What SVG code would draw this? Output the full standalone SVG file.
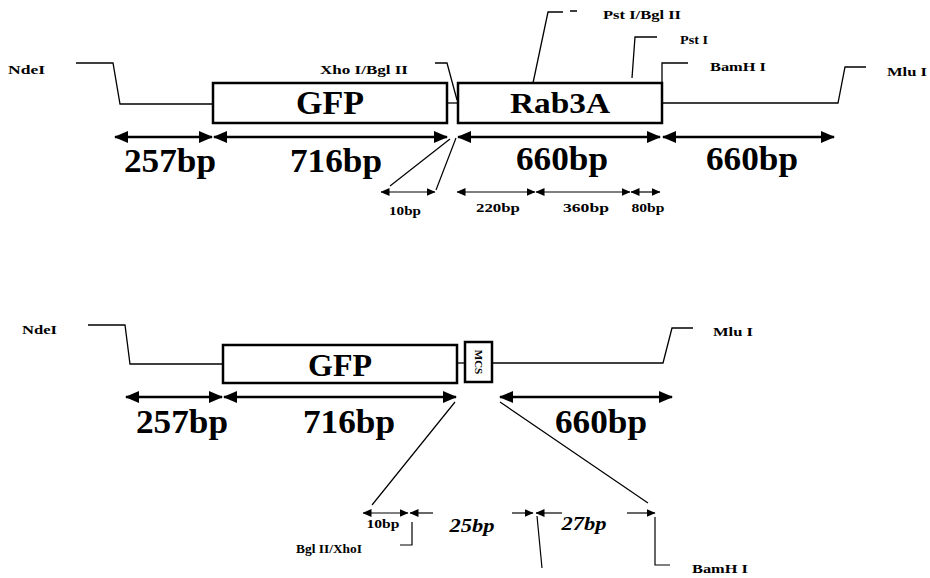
<svg xmlns="http://www.w3.org/2000/svg" width="930" height="578" viewBox="0 0 930 578">
<style>
.ln{fill:none;stroke:#000;stroke-width:1.3}
.bx{fill:#fff;stroke:#000;stroke-width:2.5}
.big{fill:none;stroke:#000;stroke-width:2.5;marker-start:url(#hb);marker-end:url(#hb)}
.sm{fill:none;stroke:#000;stroke-width:1.2}
.smb{marker-start:url(#hs);marker-end:url(#hs)}
.sme{marker-end:url(#hs)}
.lab{font-family:"Liberation Serif",serif;font-weight:bold;font-size:12px;fill:#000}
.bp{font-family:"Liberation Serif",serif;font-weight:bold;font-size:34px;fill:#000;text-anchor:middle}
.sbp{font-family:"Liberation Serif",serif;font-weight:bold;font-size:12px;fill:#000;text-anchor:middle}
.ibp{font-family:"Liberation Serif",serif;font-weight:bold;font-style:italic;font-size:19px;fill:#000;text-anchor:middle}
.gene{font-family:"Liberation Serif",serif;font-weight:bold;fill:#000;text-anchor:middle}
</style>
<defs>
<marker id="hb" markerUnits="userSpaceOnUse" markerWidth="14" markerHeight="12" viewBox="0 0 14 12" refX="13" refY="6" orient="auto-start-reverse"><path d="M0,0 L14,6 L0,12 Z" fill="#000"/></marker>
<marker id="hs" markerUnits="userSpaceOnUse" markerWidth="9" markerHeight="8" viewBox="0 0 9 8" refX="8.5" refY="4" orient="auto-start-reverse"><path d="M0,0 L9,4 L0,8 Z" fill="#000"/></marker>
</defs>
<rect width="930" height="578" fill="#fff"/>

<g id="connectors">
<path class="ln" d="M76,63 H113 L120,104 H213"/>
<path class="ln" d="M447,103 H458"/>
<path class="ln" d="M662,103 H838 L845,67 H866"/>
<path class="ln" d="M662,83 V63 H688"/>
<path class="ln" d="M632,78 L635,37 H657"/>
<path class="ln" d="M533,83 L548,12 H563 M570,11 H577"/>
<path class="ln" d="M435,63 H447 L457,100"/>
<path class="big" d="M115,137 H212"/>
<path class="big" d="M214,137 H447"/>
<path class="big" d="M458,137 H660"/>
<path class="big" d="M663,137 H834"/>
<path class="sm" d="M390,186 L450,139 M436,190 L456,138"/>
<path class="sm smb" d="M381,192 H435"/>
<path class="sm smb" d="M457,192 H535"/>
<path class="sm smb" d="M536,192 H630"/>
<path class="sm smb" d="M631,192 H660"/>
<path class="ln" d="M88,325 H125 L130,364 H223"/>
<path class="ln" d="M457,363 H465"/>
<path class="ln" d="M492,363 H663 L672,328 H693"/>
<path class="big" d="M126,397 H222"/>
<path class="big" d="M224,397 H456"/>
<path class="big" d="M500,397 H672"/>
<path class="sm" d="M455,402 L372,505 M500,402 L648,503"/>
<path class="sm smb" d="M363,513 H408"/>
<path class="sm sme" d="M433,513 H410"/>
<path class="sm sme" d="M512,513 H533"/>
<path class="sm sme" d="M562,513 H536"/>
<path class="sm sme" d="M627,513 H655"/>
<path class="sm" d="M537,516 L542,568"/>
<path class="sm" d="M412,522 V545 H400"/>
<path class="sm" d="M655,517 V565 H670"/>
</g>

<g id="top-labels">
<text class="lab" x="8" y="74" textLength="37" lengthAdjust="spacingAndGlyphs">NdeI</text>
<text class="lab" x="887" y="76" textLength="40" lengthAdjust="spacingAndGlyphs">Mlu I</text>
<text class="lab" x="710" y="71" textLength="56" lengthAdjust="spacingAndGlyphs">BamH I</text>
<text class="lab" x="680" y="44" textLength="28" lengthAdjust="spacingAndGlyphs">Pst I</text>
<text class="lab" x="603" y="19" textLength="78" lengthAdjust="spacingAndGlyphs">Pst I/Bgl II</text>
<text class="lab" x="320" y="74" textLength="88" lengthAdjust="spacingAndGlyphs">Xho I/Bgl II</text>
</g>

<g id="top-gfp">
<rect class="bx" x="213" y="83" width="234" height="40"/>
<text class="gene" x="330" y="114" font-size="34">GFP</text>
</g>
<g id="top-rab3a">
<rect class="bx" x="458" y="83" width="204" height="40"/>
<text class="gene" x="560" y="113" font-size="29" textLength="100" lengthAdjust="spacingAndGlyphs">Rab3A</text>
</g>

<g id="top-sizes">
<text class="bp" x="170" y="172" textLength="92" lengthAdjust="spacingAndGlyphs">257bp</text>
<text class="bp" x="336" y="172" textLength="92" lengthAdjust="spacingAndGlyphs">716bp</text>
<text class="bp" x="562" y="170" textLength="92" lengthAdjust="spacingAndGlyphs">660bp</text>
<text class="bp" x="752" y="170" textLength="92" lengthAdjust="spacingAndGlyphs">660bp</text>
<text class="sbp" x="405" y="215" textLength="32" lengthAdjust="spacingAndGlyphs">10bp</text>
<text class="sbp" x="498" y="212" textLength="44" lengthAdjust="spacingAndGlyphs">220bp</text>
<text class="sbp" x="586" y="212" textLength="46" lengthAdjust="spacingAndGlyphs">360bp</text>
<text class="sbp" x="648" y="212" textLength="33" lengthAdjust="spacingAndGlyphs">80bp</text>
</g>

<g id="bottom-labels">
<text class="lab" x="22" y="334" textLength="35" lengthAdjust="spacingAndGlyphs">NdeI</text>
<text class="lab" x="713" y="336" textLength="40" lengthAdjust="spacingAndGlyphs">Mlu I</text>
<text class="lab" x="362" y="553" text-anchor="end" textLength="66" lengthAdjust="spacingAndGlyphs">Bgl II/XhoI</text>
<text class="lab" x="692" y="573" textLength="56" lengthAdjust="spacingAndGlyphs">BamH I</text>
</g>

<g id="bottom-gfp">
<rect class="bx" x="223" y="345" width="234" height="38"/>
<text class="gene" x="340" y="376" font-size="32">GFP</text>
</g>
<g id="mcs">
<rect class="bx" x="465" y="342" width="27" height="40"/>
<text class="gene" font-size="11" transform="translate(475,362) rotate(90)">MCS</text>
</g>

<g id="bottom-sizes">
<text class="bp" x="182" y="433" textLength="92" lengthAdjust="spacingAndGlyphs">257bp</text>
<text class="bp" x="349" y="433" textLength="92" lengthAdjust="spacingAndGlyphs">716bp</text>
<text class="bp" x="601" y="433" textLength="92" lengthAdjust="spacingAndGlyphs">660bp</text>
<text class="sbp" x="383" y="528" textLength="33" lengthAdjust="spacingAndGlyphs">10bp</text>
<text class="ibp" x="472" y="532" textLength="45" lengthAdjust="spacingAndGlyphs">25bp</text>
<text class="ibp" x="584" y="530" textLength="45" lengthAdjust="spacingAndGlyphs">27bp</text>
</g>
</svg>
